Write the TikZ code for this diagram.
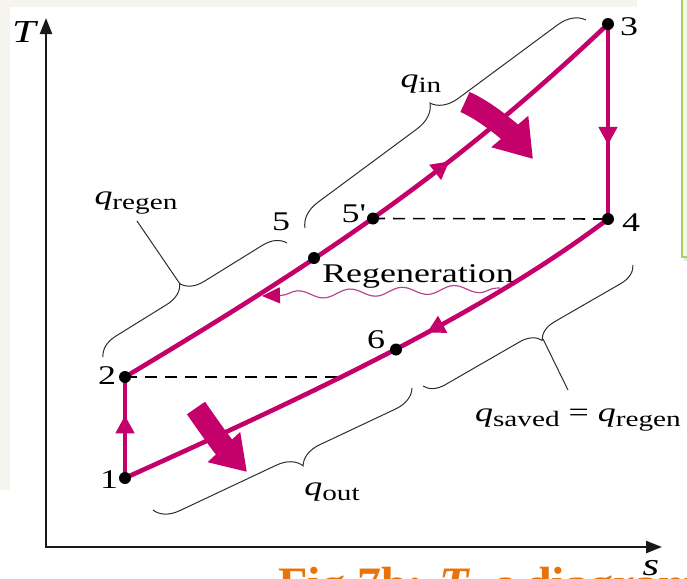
\documentclass[tikz,border=0pt]{standalone}
\usepackage{fontspec}
\setmainfont{Liberation Serif}
\newfontfamily\figfont{Liberation Serif}[FakeStretch=1.33]
\usetikzlibrary{arrows.meta,decorations.markings,decorations.pathreplacing,decorations.pathmorphing}
\definecolor{cyc}{RGB}{196,0,106}
\definecolor{wavec}{RGB}{185,70,140}
\definecolor{capor}{RGB}{232,114,12}
\definecolor{gbox}{RGB}{165,210,100}
\definecolor{gfill}{RGB}{242,250,228}
\definecolor{brc}{RGB}{45,45,45}
\definecolor{strip}{RGB}{246,244,239}
\newcommand\qsub[1]{\textit{q}\raisebox{-2.5pt}{\fontsize{11}{11}\selectfont #1}}
\tikzset{
  cycleln/.style={draw=cyc, line width=2.3pt},
  dot/.style={circle, fill=black, inner sep=0pt, minimum size=6pt},
  lbl/.style={font=\figfont\fontsize{13.5}{15}\selectfont, inner sep=0pt},
  axlbl/.style={font=\figfont\fontsize{16}{18}\selectfont\itshape, inner sep=0pt},
  midarrow/.style={postaction={decorate}, decoration={markings,
      mark=at position #1 with {\arrow{Triangle[length=9pt,width=9pt]}}}},
  dashln/.style={draw=black, line width=0.8pt, dash pattern=on 6pt off 4pt},
  bracel/.style={draw=brc, line width=0.5pt, decorate, decoration={brace, amplitude=#1}},
  leader/.style={draw=brc, line width=0.5pt},
  bigarrow/.style={draw=cyc, line width=11pt},
}
\begin{document}
\begin{tikzpicture}[x=0.5pt,y=-0.5pt]
\useasboundingbox (0,0) rectangle (687,579);
% background bits of the screenshot
\fill[strip] (0,0) rectangle (637,7);
\fill[strip] (0,0) rectangle (10,490);
\fill[black!10] (684,257) rectangle (700,261);
\fill[gfill] (682,-5) rectangle (700,257);
\draw[gbox, line width=1pt] (682,-5) -- (682,257) -- (700,257);

% axes
\coordinate (o) at (46,547);
\coordinate (ty) at (46,18);
\coordinate (sx) at (662,547);
\draw[line width=1.2pt, black!90, {Triangle[length=8pt,width=6pt]}-{Triangle[length=8pt,width=6pt]}] (ty) -- (o) -- (sx);
\node[axlbl] (tl) at (24,32) {T};

% state points
\coordinate (p1) at (125,478);
\coordinate (p2) at (125,377);
\coordinate (p3) at (608,24);
\coordinate (p4) at (608,219);
\coordinate (p5) at (314,258);
\coordinate (p5p) at (373,218.5);
\coordinate (p6) at (396,349.5);
\coordinate (d2) at (341,377);

% dashed lines
\draw[dashln] (p2) -- (d2);
\draw[dashln] (p5p) -- (p4);

% cycle
\draw[cycleln, midarrow=0.62] (p1) -- (p2);
\draw[cycleln, midarrow=0.65] (p2) .. controls (315,263) and (448,176) .. (p3);
\draw[cycleln, midarrow=0.62] (p3) -- (p4);
\draw[cycleln, midarrow=0.39] (p4) .. controls (488,310) and (325,388) .. (p1);

% regeneration wavy arrow
\coordinate (w1) at (500,288);
\coordinate (w2) at (262,296);
\draw[wavec, line width=0.6pt, decorate, decoration={snake, amplitude=2pt, segment length=26pt, pre length=2pt, post length=9pt},
  -{Triangle[length=9pt,width=8pt,color=cyc]}] (w1) -- (w2);

% big heat arrows
\coordinate (ba1) at (465,102);
\coordinate (ba2) at (533,159);
\draw[bigarrow, -{Triangle[length=18pt,width=23pt]}] (ba1) .. controls (486,111) and (511,133) .. (ba2);
\coordinate (bb1) at (196,408);
\coordinate (bb2) at (247,472);
\draw[bigarrow, -{Triangle[length=17pt,width=21pt]}] (bb1) .. controls (207,424) and (222,445) .. (bb2);

% dots
\foreach \p in {p1,p2,p3,p4,p5,p5p,p6} \node[dot] at (\p) {};

% point labels
\node[lbl] (l1) at (109,480) {1};
\node[lbl] (l2) at (107,376) {2};
\node[lbl] (l3) at (629,27) {3};
\node[lbl] (l4) at (631,223) {4};
\node[lbl] (l5) at (281,222) {5};
\node[lbl] (l5p) at (353,214) {5\textquotesingle};
\node[lbl] (l6) at (376,340) {6};
\node[lbl, anchor=base] (lreg) at (418,282) {Regeneration};

% braces
\coordinate (ra) at (103,357); \coordinate (rb) at (287,243);
\draw[bracel=11pt, decoration={aspect=0.48}] (ra) -- (rb);
\coordinate (ia) at (305,228); \coordinate (ib) at (586,20);
\draw[bracel=13pt, decoration={aspect=0.5}] (ia) -- (ib);
\coordinate (sa) at (633,265); \coordinate (sb) at (423,386);
\draw[bracel=10pt, decoration={aspect=0.48}] (sa) -- (sb);
\coordinate (oa) at (412,388); \coordinate (ob) at (153,510);
\draw[bracel=12pt, decoration={aspect=0.46}] (oa) -- (ob);

% heat labels
\node[lbl] (qreg) at (136,203) {\qsub{regen}};
\node[lbl] (qin) at (421,84) {\qsub{in}};
\node[lbl] (qout) at (332,492) {\qsub{out}};
\node[lbl] (qsav) at (578,420) {\qsub{saved} = \qsub{regen}};
\coordinate (rc) at (180,284);
\coordinate (rl) at (137,221);
\draw[leader] (rl) -- (rc);
\coordinate (sc) at (543,339);
\coordinate (sl2) at (568,390);
\draw[leader] (sc) -- (sl2);

% caption (cut by the page edge)
\node[anchor=base west, inner sep=0pt, text=capor, font=\bfseries\fontsize{24}{24}\selectfont] (cap) at (278,600) {Fig 7b: \textit{T}--\textit{s} diagram};
\node[axlbl] (sl) at (651,568) {s};
\end{tikzpicture}
\end{document}
